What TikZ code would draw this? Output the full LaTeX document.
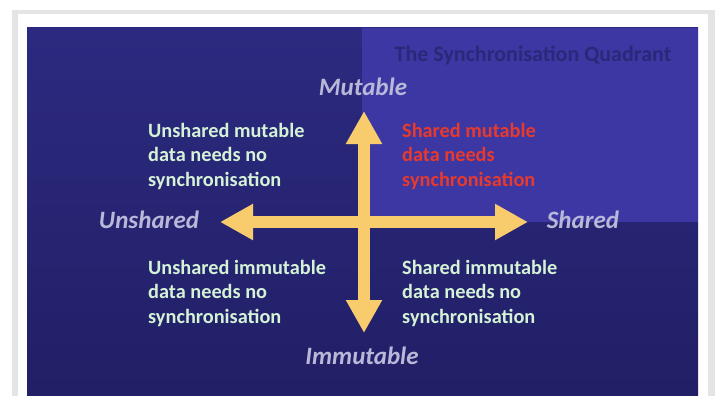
\documentclass[tikz,border=0pt]{standalone}
\usepackage{fontspec}
\setmainfont{Carlito}
\usetikzlibrary{arrows.meta}
\definecolor{navytop}{HTML}{2C2A80}
\definecolor{navybot}{HTML}{221F66}
\definecolor{lightpanel}{HTML}{3C37A3}
\definecolor{framegray}{HTML}{E4E4E4}
\definecolor{titleblue}{HTML}{2A2878}
\definecolor{arrowyellow}{HTML}{F8CC6C}
\definecolor{axislabel}{HTML}{B8B8D8}
\definecolor{quadgreen}{HTML}{D4F2D6}
\definecolor{quadred}{HTML}{E83A2C}
\tikzset{
  axisarrow/.style={draw=arrowyellow, line width=12pt,
    arrows={Triangle[width=34pt,length=33pt]-Triangle[width=34pt,length=33pt]}},
  axislab/.style={font=\fontsize{25}{28}\selectfont\bfseries\itshape, text=axislabel, inner sep=0pt},
  quadtext/.style={font=\fontsize{20.3}{24.5}\selectfont\bfseries, align=left, anchor=north west, inner sep=0pt},
}
\begin{document}
\begin{tikzpicture}[x=1pt,y=-1pt]
\useasboundingbox (0,0) rectangle (715,396);
\fill[white] (0,0) rectangle (715,396);
% frame
\fill[framegray] (12,10) rectangle (715,14);
\fill[framegray] (12,10) rectangle (18,396);
\fill[framegray] (708,10) rectangle (715,396);
% background
\shade[top color=navytop, bottom color=navybot] (27,28) rectangle (698,396);
\fill[lightpanel] (362,28) rectangle (698,222);
% title
\node[font=\fontsize{22}{24}\selectfont\bfseries, text=titleblue, inner sep=0pt] (title) at (533,55) {The Synchronisation Quadrant};
% arrow endpoints
\coordinate (top) at (364,111);
\coordinate (bottom) at (364,333);
\coordinate (left) at (220,222);
\coordinate (right) at (528,222);
\draw[axisarrow] (left) -- (right);
\draw[axisarrow] (bottom) -- (top);
% axis labels
\node[axislab] (mut) at (363,87) {Mutable};
\node[axislab] (imm) at (362,356) {Immutable};
\node[axislab] (unsh) at (149,220) {Unshared};
\node[axislab] (sh) at (583,220) {Shared};
% quadrant texts
\node[quadtext, text=quadgreen] (ul) at (148,123) {Unshared mutable\\data needs no\\synchronisation};
\node[quadtext, text=quadred] (ur) at (402,123) {Shared mutable\\data needs\\synchronisation};
\node[quadtext, text=quadgreen] (ll) at (148,260) {Unshared immutable\\data needs no\\synchronisation};
\node[quadtext, text=quadgreen] (lr) at (402,260) {Shared immutable\\data needs no\\synchronisation};
\end{tikzpicture}
\end{document}
